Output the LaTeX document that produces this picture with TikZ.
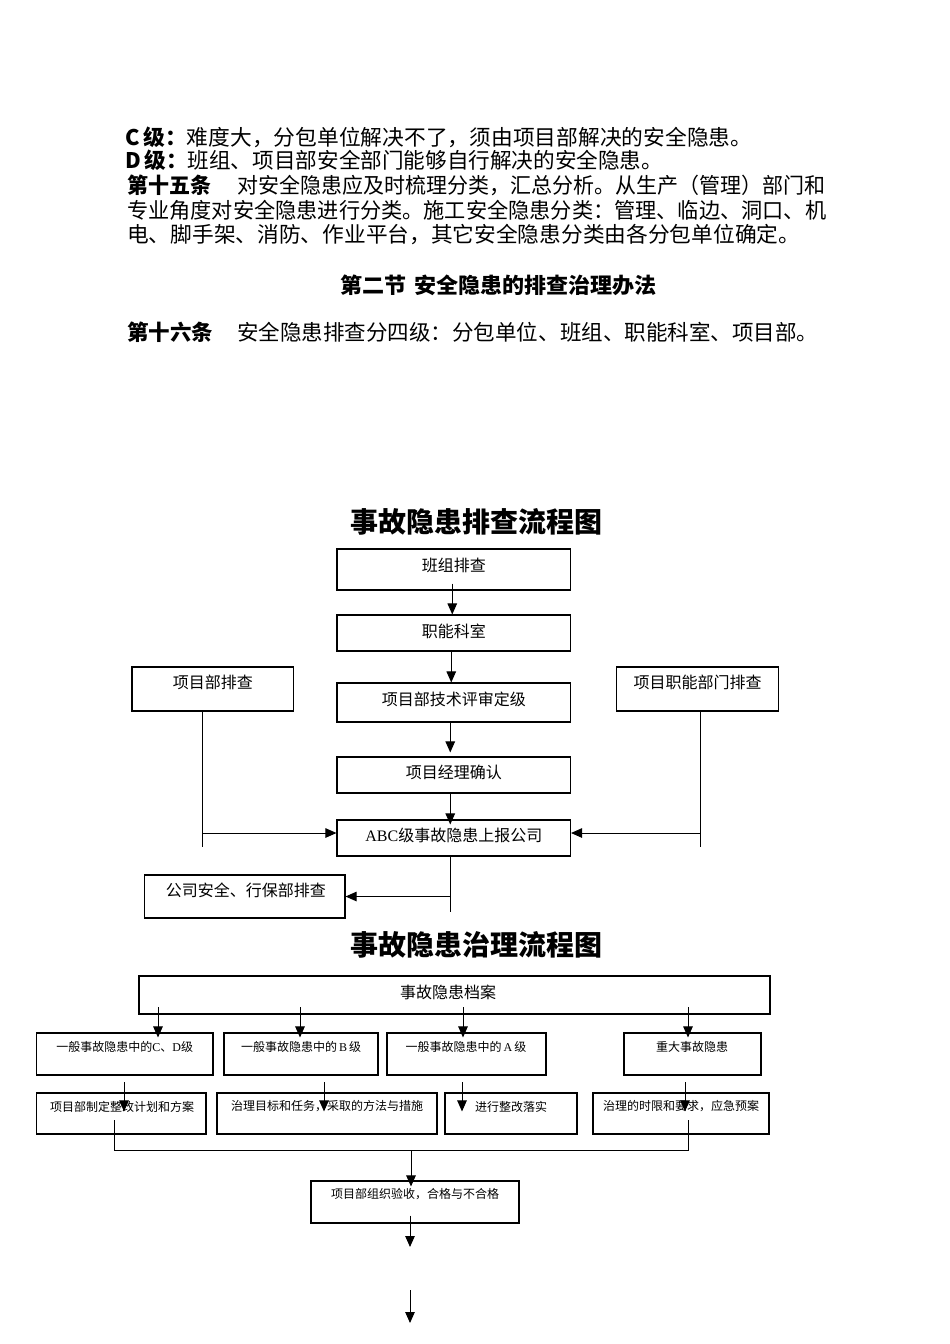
\documentclass[tikz,border=0pt]{standalone}
\usepackage{fontspec}
\usepackage{graphicx}
\setmainfont{Noto Sans CJK SC}
\newfontfamily\tms{Liberation Serif}
\usetikzlibrary{arrows.meta,calc}
\newcommand{\mkbox}[5]{\node[box, minimum width={#4-#2}, minimum height={#5-#3}] (#1) at ({(#2+#4)/2},{(#3+#5)/2}) {};}
\begin{document}
\begin{tikzpicture}[x=1pt,y=-1pt,
  box/.style={draw, line width=1.1pt, inner sep=0pt},
  ln/.style={line width=1pt},
  arr/.style={line width=1pt, -{Triangle[length=11pt,width=9.5pt]}},
  bt/.style={font=\fontsize{16}{18}\selectfont, inner sep=0pt},
  st/.style={font=\fontsize{12}{14}\selectfont, inner sep=0pt},
  para/.style={anchor=base west, inner sep=0pt, font=\fontsize{21.5}{24}\selectfont},
  ttl/.style={font=\fontsize{28}{30}\selectfont\bfseries, inner sep=0pt},
]
\useasboundingbox (0,0) rectangle (950,1344);

% ---- paragraph text ----
\node[para] (l1) at (125,145.5) {\resizebox{627pt}{\height}{\textbf{C}\,\textbf{级：}难度大，分包单位解决不了，须由项目部解决的安全隐患。}};
\node[para] (l2) at (125,168.5) {\resizebox{538pt}{\height}{\textbf{D}\,\textbf{级：}班组、项目部安全部门能够自行解决的安全隐患。}};
\node[para] (l3) at (127,193.5) {\resizebox{698pt}{\height}{\textbf{第十五条}\hspace{27pt}对安全隐患应及时梳理分类，汇总分析。从生产（管理）部门和}};
\node[para] (l4) at (127,218.5) {\resizebox{699pt}{\height}{专业角度对安全隐患进行分类。施工安全隐患分类：管理、临边、洞口、机}};
\node[para] (l5) at (127,242.5) {\resizebox{673pt}{\height}{电、脚手架、消防、作业平台，其它安全隐患分类由各分包单位确定。}};
\node[para, anchor=base] (l6) at (498.5,293.5) {\resizebox{317pt}{\height}{\textbf{第二节\hspace{8pt}安全隐患的排查治理办法}}};
\node[para] (l7) at (127,340.5) {\resizebox{691pt}{\height}{\textbf{第十六条}\hspace{24pt}安全隐患排查分四级：分包单位、班组、职能科室、项目部。}};

% ---- flowchart 1 ----
\node[ttl] (t1) at (476,522) {事故隐患排查流程图};
\mkbox{b1}{337}{549}{570.5}{590}
\mkbox{b2}{337}{615}{570.5}{651}
\mkbox{b3}{337}{683}{570.5}{722}
\mkbox{b4}{337}{757}{570.5}{793}
\mkbox{b5}{337}{820}{570.5}{856}
\mkbox{bl}{132}{667}{293.6}{711}
\mkbox{br}{616.6}{667}{778.6}{711}
\mkbox{bc}{144.6}{875}{345}{918}
\node[bt] (b1t) at (453.8,565) {班组排查};
\node[bt] (b2t) at (453.8,631) {职能科室};
\node[bt] (b3t) at (453.8,699) {项目部技术评审定级};
\node[bt] (b4t) at (453.8,772) {项目经理确认};
\node[bt] (b5t) at (453.8,835.5) {{\tms ABC}级事故隐患上报公司};
\node[bt] (blt) at (212.8,682) {项目部排查};
\node[bt] (brt) at (697.6,682) {项目职能部门排查};
\node[bt] (bct) at (245.8,890) {公司安全、行保部排查};

\draw[arr] ([xshift=-1.5pt,yshift=7pt]b1.south) -- ([xshift=-1.5pt]b2.north);
\draw[arr] ([xshift=-2.5pt]b2.south) -- ([xshift=-2.5pt]b3.north);
\draw[arr] ([xshift=-3.5pt]b3.south) -- ([xshift=-3.5pt,yshift=4pt]b4.north);
\draw[arr] ([xshift=-3.5pt]b4.south) -- ([xshift=-3.5pt,yshift=-5pt]b5.north);

\coordinate (lb) at (202.8,846.7);
\coordinate (rb) at (700.3,846.7);
\coordinate (bd) at (450,911.7);
\path ([yshift=5pt]b5.west) coordinate (b5w) ([yshift=5pt]b5.east) coordinate (b5e);
\draw[ln] (bl.south -| lb) -- (lb);
\draw[arr] (lb |- b5w) -- (b5w);
\draw[ln] (br.south -| rb) -- (rb);
\draw[arr] (rb |- b5e) -- (b5e);
\draw[ln] (b5.south -| bd) -- (bd);
\draw[arr] (bd |- bc.east) -- (bc.east);

% ---- flowchart 2 ----
\node[ttl] (t2) at (476,945) {事故隐患治理流程图};
\mkbox{top}{139}{976}{770}{1014}
\mkbox{r1}{36.5}{1033}{213}{1075}
\mkbox{r2}{224}{1033}{378}{1075}
\mkbox{r3}{387}{1033}{546}{1075}
\mkbox{r4}{624}{1033}{761}{1075}
\mkbox{q1}{36.5}{1093}{206}{1134}
\mkbox{q2}{217}{1093}{437}{1134}
\mkbox{q3}{445}{1093}{577}{1134}
\mkbox{q4}{593}{1093}{769}{1134}
\mkbox{fin}{311}{1181}{519}{1223}

\node[bt] (topt) at (448,992) {事故隐患档案};
\node[st] (r1t) at (124.7,1046.5) {一般事故隐患中的{\tms C}、{\tms D}级};
\node[st] (r2t) at (301,1046.5) {一般事故隐患中的{\tms\,B\,}级};
\node[st] (r3t) at (466,1046.5) {一般事故隐患中的{\tms\,A\,}级};
\node[st] (r4t) at (692,1046.5) {重大事故隐患};
\node[st] (q1t) at (122,1106.5) {项目部制定整改计划和方案};
\node[st] (q2t) at (327,1106.5) {治理目标和任务，采取的方法与措施};
\node[st] (q3t) at (511,1106.5) {进行整改落实};
\node[st] (q4t) at (681,1106.5) {治理的时限和要求，应急预案};
\node[st] (fint) at (415,1194) {项目部组织验收，合格与不合格};

% top box -> row 2
\foreach \xx/\nn in {158/r1, 300/r2, 463/r3, 688/r4}{
  \coordinate (s\nn) at (\xx,1007);
  \draw[arr] (s\nn) -- ($(s\nn |- \nn.north)+(0,5)$);
}
% row 2 -> row 3
\foreach \xx/\aa/\nn in {124/r1/q1, 324/r2/q2, 462/r3/q3, 685/r4/q4}{
  \coordinate (u\nn) at (\xx,1082);
  \draw[arr] (u\nn) -- ($(u\nn |- \nn.north)+(0,19)$);
}
% collecting line
\coordinate (cl) at (114,1120);
\coordinate (cr) at (688,1120);
\coordinate (hl) at (114,1150);
\coordinate (hr) at (688,1150);
\coordinate (hm) at (411,1150);
\draw[ln] (cl) -- (hl) -- (hr) -- (cr);
\draw[arr] (hm) -- ($(hm |- fin.north)+(0,6)$);
\coordinate (e1) at (410,1247);
\draw[arr] ($(fin.south -| e1)+(0,-8)$) -- (e1);
\coordinate (e2s) at (410,1290);
\coordinate (e2) at (410,1323);
\draw[arr] (e2s) -- (e2);
\end{tikzpicture}
\end{document}
